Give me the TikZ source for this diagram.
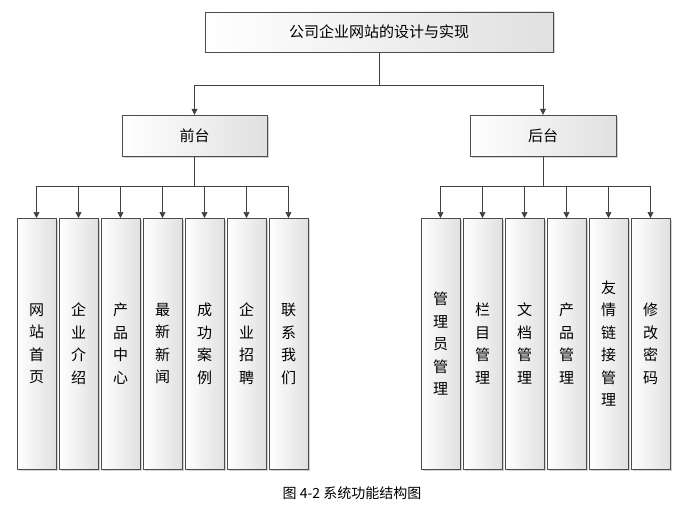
\documentclass[tikz,border=0pt]{standalone}
\usepackage{fontspec}
\setmainfont{Noto Sans CJK SC}
\usetikzlibrary{arrows.meta,shadows}
\tikzset{
  box/.style={draw=black!70, shading=axis, left color=white, right color=black!12,
    shading angle=90, drop shadow={shadow xshift=1.5pt, shadow yshift=-1.5pt, opacity=.35},
    inner sep=0pt, font=\fontsize{15}{15}\selectfont},
  leaf/.style={box, minimum width=39pt, minimum height=251pt, align=center,
    font=\fontsize{15}{22.5}\selectfont},
  arr/.style={-{Triangle[length=6pt,width=6pt]}, draw=black!75, line width=0.7pt},
  ln/.style={draw=black!75, line width=0.7pt}
}
\begin{document}
\begin{tikzpicture}[x=1pt,y=-1pt]
\useasboundingbox (0,0) rectangle (695,511);
\node[box, minimum width=348pt, minimum height=40pt] (root) at (379,32) {公司企业网站的设计与实现};
\node[box, minimum width=145pt, minimum height=41pt] (front) at (194.5,135.5) {前台};
\node[box, minimum width=146pt, minimum height=41pt] (back) at (543,135.5) {后台};
\coordinate (r1) at (379,85);
\draw[ln] (root.south) -- (r1);
\draw[arr] (r1) -| (front.north);
\draw[arr] (r1) -| (back.north);
% front leaves
\coordinate (f1) at (194.5,186);
\draw[ln] (front.south) -- (f1);
\foreach \t [count=\i] in {网\\站\\首\\页, 企\\业\\介\\绍, 产\\品\\中\\心, 最\\新\\新\\闻, 成\\功\\案\\例, 企\\业\\招\\聘, 联\\系\\我\\们} {
  \node[leaf, anchor=north] (fl\i) at ({36.5+42*(\i-1)},218) {\t};
  \draw[arr] (f1) -| (fl\i.north);
}
% back leaves
\coordinate (b1) at (543,186);
\draw[ln] (back.south) -- (b1);
\foreach \t [count=\i] in {管\\理\\员\\管\\理, 栏\\目\\管\\理, 文\\档\\管\\理, 产\\品\\管\\理, 友\\情\\链\\接\\管\\理, 修\\改\\密\\码} {
  \node[leaf, anchor=north] (bl\i) at ({440.5+42*(\i-1)},218) {\t};
  \draw[arr] (b1) -| (bl\i.north);
}
\node[font=\fontsize{14}{14}\selectfont] (cap) at (352,493) {图 4-2 系统功能结构图};
\end{tikzpicture}
\end{document}
